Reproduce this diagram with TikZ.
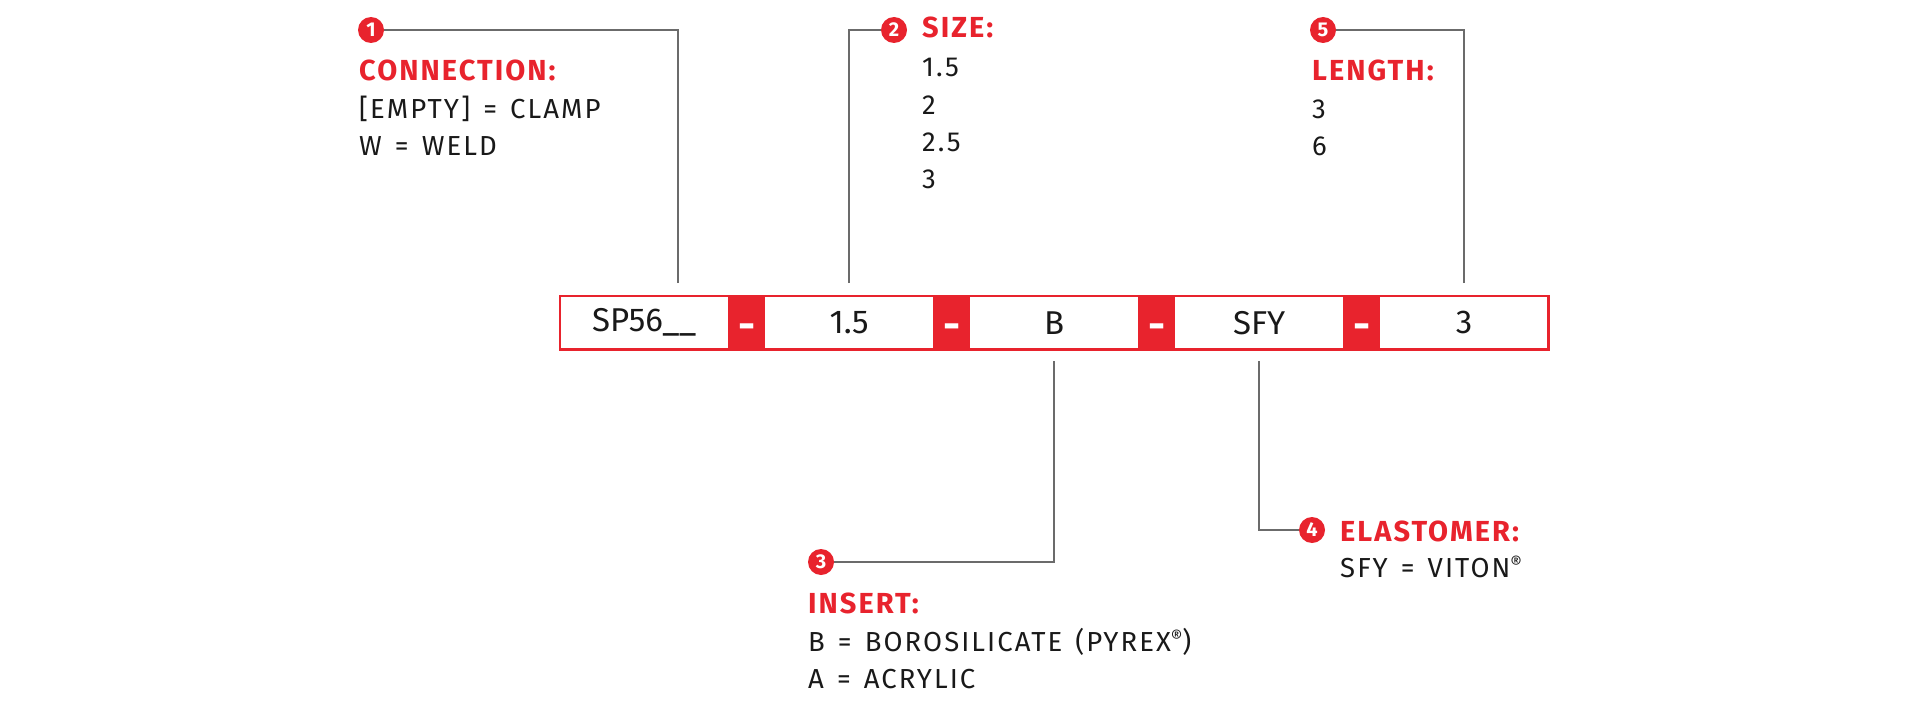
\documentclass[tikz,border=0pt]{standalone}
\usepackage{fontspec}
\setmainfont{Fira Sans}
\newfontfamily\bodyf{Fira Sans}[LetterSpace=7.5,WordSpace=1.4]
\newfontfamily\headf{Fira Sans Bold}[LetterSpace=7]
\newfontfamily\dashf{Fira Sans Bold}
\newfontfamily\boxff{Fira Sans}
\usetikzlibrary{calc}
\definecolor{brand}{HTML}{E8232D}
\definecolor{leadc}{HTML}{6B6B6B}
\newcommand{\regm}{\raisebox{8pt}{\fontsize{18pt}{18pt}\selectfont ®}}
\begin{document}
\begin{tikzpicture}[x=1pt,y=-1pt,
  cell/.style={inner sep=0pt, minimum width=168pt, minimum height=53pt, anchor=north west, font=\boxff\fontsize{33pt}{33pt}\selectfont, text=black!90},
  sepcell/.style={fill=brand, inner sep=0pt, minimum width=37pt, minimum height=53pt, anchor=north west, text=white, text height=33pt, text depth=0pt, font=\dashf\fontsize{42pt}{42pt}\selectfont},
  num/.style={circle, fill=brand, inner sep=0pt, minimum size=26pt, text=white, font=\headf\fontsize{20pt}{20pt}\selectfont},
  head/.style={anchor=base west, inner sep=0pt, text=brand, font=\headf\fontsize{29pt}{29pt}\selectfont},
  body/.style={anchor=base west, inner sep=0pt, text=black!90, font=\bodyf\fontsize{27.5pt}{27.5pt}\selectfont},
  lead/.style={draw=leadc, line width=2pt}]
\useasboundingbox (0,0) rectangle (1920,709);

% code boxes
\node[cell] (c1) at (560,296) {SP56\_\_};
\node[sepcell] (d1) at (728,296) {-};
\node[cell] (c2) at (765,296) {1.5};
\node[sepcell] (d2) at (933,296) {-};
\node[cell] (c3) at (970,296) {B};
\node[sepcell] (d3) at (1138,296) {-};
\node[cell] (c4) at (1175,296) {SFY};
\node[sepcell] (d4) at (1343,296) {-};
\node[cell] (c5) at (1380,296) {3};
\draw[brand, line width=2.2pt] (c1.north west) rectangle (c5.south east);

% numbers
\node[num] (n1) at (371,30) {1};
\node[num] (n2) at (894,30) {2};
\node[num] (n3) at (821,562) {3};
\node[num] (n4) at (1312,530) {4};
\node[num] (n5) at (1323,30) {5};

% leader start points
\coordinate (t1) at ($(c1.north)+(34,-13)$);
\coordinate (t2) at ($(c2.north)+(0,-13)$);
\coordinate (t5) at ($(c5.north)+(0,-13)$);
\coordinate (b3) at ($(c3.south)+(0,12)$);
\coordinate (b4) at ($(c4.south)+(0,12)$);
\draw[lead] (t1) |- (n1);
\draw[lead] (t2) |- (n2);
\draw[lead] (t5) |- (n5);
\draw[lead] (b3) |- (n3);
\draw[lead] (b4) |- (n4);

% labels
\node[head] (h1) at (359,81) {CONNECTION:};
\node[body] (l1a) at (359,118) {[EMPTY] = CLAMP};
\node[body] (l1b) at (359,155) {W = WELD};

\node[head] (h2) at (922,38) {SIZE:};
\node[body] (l2a) at (922,77) {1.5};
\node[body] (l2b) at (922,114) {2};
\node[body] (l2c) at (922,151) {2.5};
\node[body] (l2d) at (922,188) {3};

\node[head] (h5) at (1312,81) {LENGTH:};
\node[body] (l5a) at (1312,118) {3};
\node[body] (l5b) at (1312,155) {6};

\node[head] (h3) at (808,613) {INSERT:};
\node[body] (l3a) at (808,651) {B = BOROSILICATE (PYREX\regm)};
\node[body] (l3b) at (808,688) {A = ACRYLIC};

\node[head] (h4) at (1340,541) {ELASTOMER:};
\node[body] (l4a) at (1340,577) {SFY = VITON\regm};
\end{tikzpicture}
\end{document}
